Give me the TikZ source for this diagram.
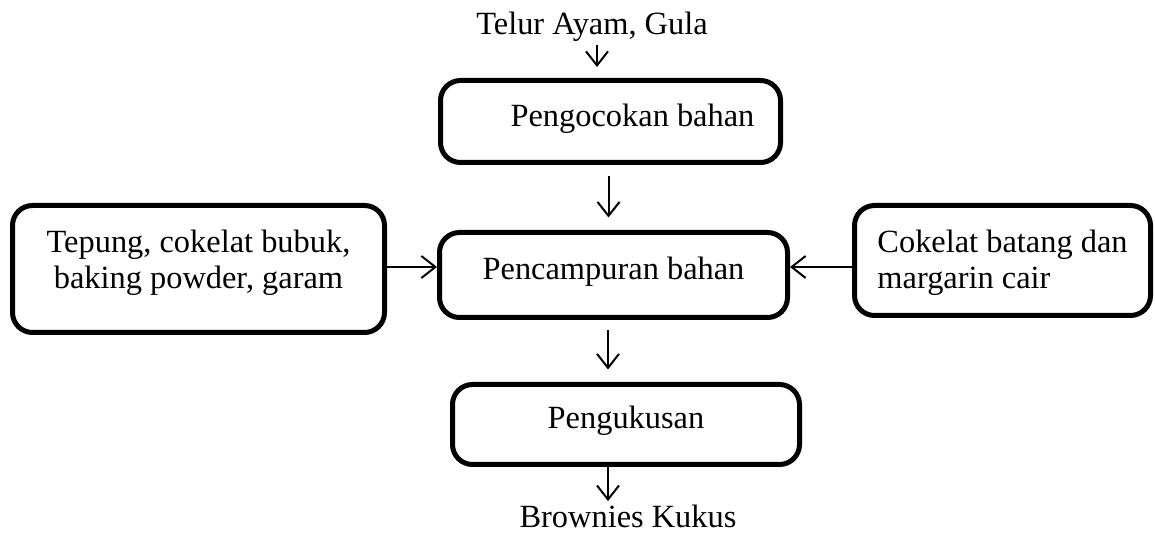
\documentclass[tikz,border=0pt]{standalone}
\usepackage{fontspec}
\setmainfont{Liberation Serif}
\usepackage{tikz}
\usetikzlibrary{arrows.meta,positioning,calc}

\begin{document}
\begin{tikzpicture}[x=0.5pt,y=-0.5pt,every node/.style={font=\fontsize{16.2}{18}\selectfont,align=center},
  box/.style={draw,line width=2.5pt,rounded corners=10pt,inner sep=0pt},
  arr/.style={-{Straight Barb[length=7pt,width=11pt]},line width=1pt}]
\useasboundingbox (0,0) rectangle (1155,533);
\node[anchor=base,inner sep=0pt] (telur) at (592,35) {Telur Ayam, Gula};
\node[box,text depth=6.5pt,minimum width=170pt,minimum height=41pt] (pengocokan) at (610.5,121.5) {\hspace*{22pt}Pengocokan bahan};
\node[box,text depth=6.5pt,minimum width=174pt,minimum height=42.5pt] (pencampuran) at (613.5,275) {Pencampuran bahan};
\node[box,text depth=10pt,minimum width=186pt,minimum height=63.5pt] (tepung) at (198.5,269) {Tepung, cokelat bubuk,\\baking powder, garam};
\node[box,align=left,text depth=1.5pt,minimum width=148pt,minimum height=55pt] (cokelat) at (1002.5,260.5) {Cokelat batang dan\\margarin cair};
\node[box,text depth=7.5pt,minimum width=173.5pt,minimum height=40pt] (pengukusan) at (626,424.5) {Pengukusan};
\node[anchor=base,inner sep=0pt] (brownies) at (628,527) {Brownies Kukus};
\draw[arr,shorten <=1.5pt,shorten >=5.5pt] ([xshift=2.5pt]telur.south) -- ([xshift=2.5pt]telur.south |- pengocokan.north);
\draw[arr,shorten <=5.75pt,shorten >=6.25pt] ([xshift=-1pt]pengocokan.south) -- ([xshift=-1pt]pengocokan.south |- pencampuran.north);
\draw[arr] ([yshift=4pt]pencampuran.west -| tepung.east) -- ([yshift=4pt]pencampuran.west);
\draw[arr] ([yshift=4pt]pencampuran.east -| cokelat.west) -- ([yshift=4pt]pencampuran.east);
\draw[arr,shorten <=5.25pt,shorten >=6.25pt] ([xshift=-2.75pt]pencampuran.south) -- ([xshift=-2.75pt]pencampuran.south |- pengukusan.north);
\draw[arr,shorten >=1.5pt] ([xshift=-9pt]pengukusan.south) -- ([xshift=-9pt]pengukusan.south |- brownies.north);
\end{tikzpicture}
\end{document}
